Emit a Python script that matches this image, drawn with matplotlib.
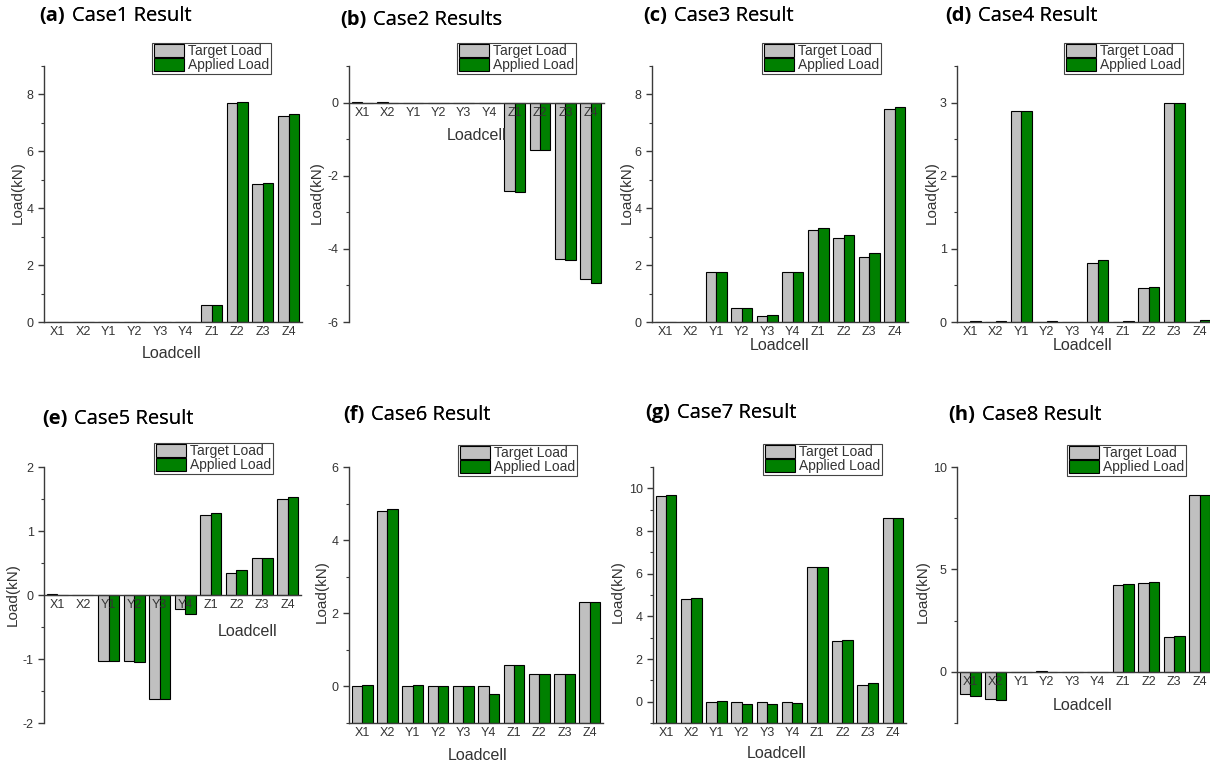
import matplotlib
matplotlib.use('Agg')
import matplotlib.pyplot as plt
import numpy as np
from matplotlib.ticker import AutoMinorLocator, MultipleLocator

# 기본 글꼴 (Arial 계열)
plt.rcParams.update({
    'font.family': ['Liberation Sans', 'DejaVu Sans'],
    'font.size': 9,
    'axes.linewidth': 1.0,
    'axes.unicode_minus': False,
})

cells = ['X1', 'X2', 'Y1', 'Y2', 'Y3', 'Y4', 'Z1', 'Z2', 'Z3', 'Z4']

# Case 데이터
target_1 = [0, 0, 0, 0, 0, 0, 0.6, 7.7, 4.85, 7.25]
applied_1 = [0, 0, 0, 0, 0, 0, 0.6, 7.75, 4.9, 7.3]

target_2 = [0.02, 0.02, 0, 0, 0, 0, -2.42, -1.3, -4.27, -4.83]
applied_2 = [0.0, 0.0, 0, 0, 0, 0, -2.45, -1.3, -4.3, -4.92]

target_3 = [0, 0, 1.75, 0.48, 0.2, 1.75, 3.22, 2.97, 2.27, 7.5]
applied_3 = [0, 0, 1.75, 0.48, 0.25, 1.75, 3.3, 3.05, 2.42, 7.57]

target_4 = [0, 0, 2.88, 0, 0, 0.8, 0, 0.47, 3.0, 0]
applied_4 = [0.01, 0.01, 2.88, 0.01, 0, 0.85, 0.01, 0.48, 3.0, 0.03]

target_5 = [0.01, 0, -1.03, -1.03, -1.62, -0.22, 1.25, 0.35, 0.58, 1.5]
applied_5 = [0, 0, -1.03, -1.05, -1.62, -0.3, 1.28, 0.39, 0.58, 1.53]

target_6 = [0, 4.8, 0, 0, 0, 0, 0.58, 0.35, 0.35, 2.3]
applied_6 = [0.03, 4.85, 0.05, 0.02, 0.02, -0.2, 0.58, 0.35, 0.35, 2.3]

target_7 = [9.65, 4.8, 0, 0, 0, 0, 6.3, 2.85, 0.78, 8.62]
applied_7 = [9.7, 4.85, 0.05, -0.1, -0.12, -0.05, 6.3, 2.9, 0.88, 8.62]

target_8 = [-1.1, -1.35, -0.02, 0.03, 0, -0.02, 4.25, 4.35, 1.7, 8.65]
applied_8 = [-1.2, -1.4, 0, 0, 0, 0, 4.28, 4.4, 1.73, 8.65]

titles = ['Case1 Result', 'Case2 Results', 'Case3 Result', 'Case4 Result',
          'Case5 Result', 'Case6 Result', 'Case7 Result', 'Case8 Result']
letters = ['(a)', '(b)', '(c)', '(d)', '(e)', '(f)', '(g)', '(h)']
targets = [target_1, target_2, target_3, target_4, target_5, target_6, target_7, target_8]
applieds = [applied_1, applied_2, applied_3, applied_4, applied_5, applied_6, applied_7, applied_8]

ylims = [(0, 9), (-6, 1), (0, 9), (0, 3.5), (-2, 2), (-1, 6), (-1, 11), (-2.5, 10)]
ysteps = [2, 2, 2, 1, 1, 2, 2, 5]
zero_axis = [False, True, False, False, True, False, False, True]
# (f), (g)는 막대가 축 아래쪽(-1)에서 시작
bar_base = [0, 0, 0, 0, 0, -1, -1, 0]

# 레이아웃 (픽셀 단위: left, top, right, bottom)
W, H = 1210, 765
ax_px = [(44, 66, 302, 322), (349, 66, 604, 322), (652, 66, 908, 322), (957, 66, 1213, 322),
         (44, 467, 301, 723), (349, 467, 603, 723), (653, 467, 906, 723), (957, 467, 1213, 723)]
title_px = [(39, 16), (340, 20), (643, 16), (945, 16), (42, 419), (343, 415), (645, 413), (948, 415)]
legend_px = [(271, 43), (576, 43), (881, 43), (1183, 43), (273, 443), (577, 445), (882, 444), (1186, 445)]
xlabel_px = [(172, 353), (477, 135), (780, 346), (1083, 346), (248, 632), (478, 756), (777, 753), (1083, 705)]
ylabel_px = [(18, 193), (317, 193), (627, 193), (932, 193), (13, 595), (322, 592), (618, 592), (923, 592)]

def fx(x):
    return x / W

def fy(y):
    return 1 - y / H

fig = plt.figure(figsize=(12.1, 7.65), dpi=100)

x = np.arange(len(cells))
bw = 0.41
axis_col = '#3a3a3a'
text_col = '#333333'
title_font = ['Open Sans', 'DejaVu Sans']

for i in range(8):
    l, t, r, b = ax_px[i]
    ax = fig.add_axes([fx(l), fy(b), (r - l) / W, (b - t) / H])

    base = bar_base[i]
    ax.bar(x - bw / 2, np.array(targets[i]) - base, bw, bottom=base, color='#c0c0c0',
           edgecolor='black', linewidth=0.8, label='Target Load')
    ax.bar(x + bw / 2, np.array(applieds[i]) - base, bw, bottom=base, color='#008000',
           edgecolor='black', linewidth=0.8, label='Applied Load')

    ax.set_xlim(-0.52, 9.52)
    ax.set_ylim(*ylims[i])
    ax.yaxis.set_major_locator(MultipleLocator(ysteps[i]))
    ax.yaxis.set_minor_locator(AutoMinorLocator(2))
    ax.set_xticks(x)
    ax.set_xticklabels(cells)

    for s in ['top', 'right']:
        ax.spines[s].set_visible(False)
    for s in ['left', 'bottom']:
        ax.spines[s].set_color(axis_col)
    if zero_axis[i]:
        ax.spines['bottom'].set_position(('data', 0))

    ax.tick_params(axis='x', length=0, pad=3, labelsize=9, labelcolor=text_col)
    ax.tick_params(axis='y', which='major', length=4, width=1, direction='out',
                   labelsize=9, labelcolor=text_col, color=axis_col)
    ax.tick_params(axis='y', which='minor', length=2, width=0.8, color=axis_col)

    ax.set_xlabel('Loadcell', fontsize=11.5, color=text_col, va='center', ha='center')
    ax.xaxis.set_label_coords(fx(xlabel_px[i][0]), fy(xlabel_px[i][1]), transform=fig.transFigure)
    ax.set_ylabel('Load(kN)', fontsize=11, color=text_col, va='center', ha='center')
    ax.yaxis.set_label_coords(fx(ylabel_px[i][0]), fy(ylabel_px[i][1]), transform=fig.transFigure)

    leg = ax.legend(loc='upper right', bbox_to_anchor=(fx(legend_px[i][0]), fy(legend_px[i][1])),
                    bbox_transform=fig.transFigure, borderaxespad=0, fontsize=10,
                    handlelength=2.2, handleheight=1.0, labelspacing=0.0,
                    handletextpad=0.3, borderpad=0.1, fancybox=False, framealpha=1,
                    edgecolor='#444444')
    leg.get_frame().set_linewidth(0.8)
    for txt in leg.get_texts():
        txt.set_color(text_col)

    # 제목: 굵은 (a) + 일반 글씨
    tx, ty = title_px[i]
    lt = fig.text(fx(tx), fy(ty), letters[i], fontsize=14.5, fontweight='bold',
                  family=title_font, va='center', ha='left')
    fig.texts.append(ax.annotate(titles[i], xy=(1, 0.5), xycoords=lt, xytext=(5, 0),
                                 textcoords='offset points', fontsize=14.5,
                                 fontweight='normal', family=title_font,
                                 va='center', ha='left', annotation_clip=False))

fig.savefig('out.png', dpi=100)
